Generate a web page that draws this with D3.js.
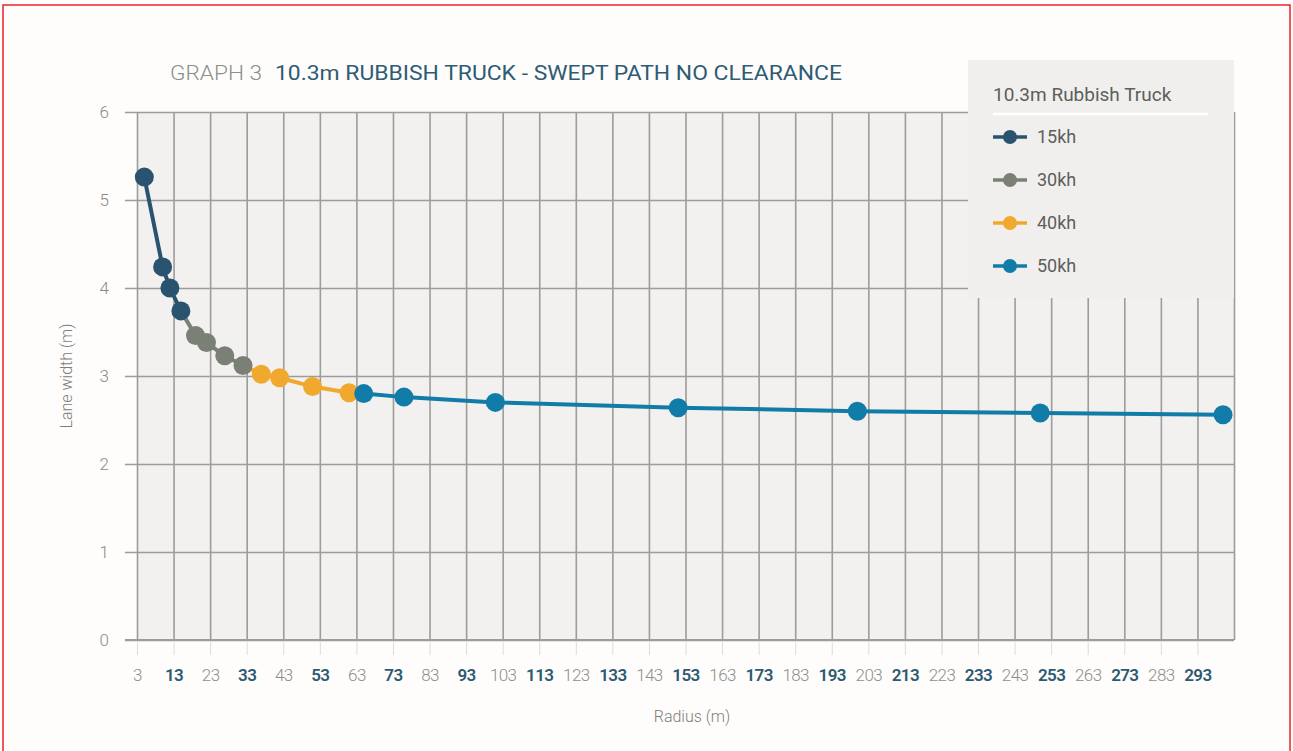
<!DOCTYPE html>
<html>
<head>
<meta charset="utf-8">
<script src="https://cdn.jsdelivr.net/npm/d3@7/dist/d3.min.js"></script>
<style>
  html, body { margin: 0; padding: 0; background: #fefdfb; }
  svg { display: block; }
  text { font-family: Roboto, "Open Sans", sans-serif; }
</style>
</head>
<body>
<svg id="chart" width="1293" height="751"></svg>
<script>
// Lane width (m) against turning radius (m) for each speed band
const radius15 = [5, 10, 12, 15];
const width15  = [5.26, 4.24, 4.0, 3.74];
const radius30 = [19, 22, 27, 32];
const width30  = [3.46, 3.38, 3.23, 3.12];
const radius40 = [37, 42, 51, 61];
const width40  = [3.02, 2.98, 2.88, 2.81];
const radius50 = [65, 76, 101, 151, 200, 250, 300];
const width50  = [2.80, 2.76, 2.70, 2.64, 2.60, 2.58, 2.56];

const seriesNames = ["15kh", "30kh", "40kh", "50kh"];
const seriesColors = ["#2a5370", "#7b8076", "#f0a92e", "#117ca8"];
const xTickValues = d3.range(3, 294, 10);      // 3, 13, ... 293
const xGridValues = d3.range(3, 304, 10);      // includes the right edge at 303
const yTickValues = [0, 1, 2, 3, 4, 5, 6];

const series = [
  { name: seriesNames[0], color: seriesColors[0], pts: radius15.map((r, i) => [r, width15[i]]) },
  { name: seriesNames[1], color: seriesColors[1], pts: radius30.map((r, i) => [r, width30[i]]) },
  { name: seriesNames[2], color: seriesColors[2], pts: radius40.map((r, i) => [r, width40[i]]) },
  { name: seriesNames[3], color: seriesColors[3], pts: radius50.map((r, i) => [r, width50[i]]) }
];

const svg = d3.select("#chart");

// page frame
svg.append("rect")
  .attr("x", 3).attr("y", 5).attr("width", 1287).attr("height", 760)
  .attr("fill", "none").attr("stroke", "#e8232a").attr("stroke-width", 1.5);

const x = d3.scaleLinear().domain([3, 303]).range([137, 1234]);
const y = d3.scaleLinear().domain([0, 6]).range([640, 112]);
const [x0, x1] = x.range();
const [y0, y1] = y.range();

// plot background
svg.append("rect")
  .attr("x", x0).attr("y", y1).attr("width", x1 - x0).attr("height", y0 - y1)
  .attr("fill", "#f2f1ef");

const gridColor = "#9c9c9a";

// horizontal gridlines with short ticks to the left, plus value labels
const yAxis = svg.append("g")
  .attr("transform", `translate(${x0 - 12},0)`)
  .call(d3.axisLeft(y).tickValues(yTickValues).tickSize(-(x1 - x0 + 12)).tickPadding(16).tickFormat(d3.format("d")));
yAxis.select(".domain").remove();
yAxis.selectAll(".tick line").attr("stroke", gridColor).attr("stroke-width", 1.6);
yAxis.selectAll(".tick text")
  .attr("fill", "#8a8a88").attr("font-size", 17).attr("font-weight", 300);

// vertical gridlines
const xGrid = svg.append("g")
  .attr("transform", `translate(0,${y0})`)
  .call(d3.axisBottom(x).tickValues(xGridValues).tickSize(-(y0 - y1)).tickFormat(""));
xGrid.select(".domain").remove();
xGrid.selectAll(".tick line").attr("stroke", gridColor).attr("stroke-width", 1.6);

// re-draw the baseline so it sits above the vertical lines
svg.append("line")
  .attr("x1", x0 - 12).attr("x2", x1).attr("y1", y(0)).attr("y2", y(0))
  .attr("stroke", gridColor).attr("stroke-width", 1.8);

// x-axis ticks below the plot and alternating-colour labels
const xAxis = svg.append("g")
  .attr("transform", `translate(0,${y0 + 2})`)
  .call(d3.axisBottom(x).tickValues(xTickValues).tickSize(13).tickPadding(14).tickFormat(d3.format("d")));
xAxis.select(".domain").remove();
xAxis.selectAll(".tick line").attr("stroke", "#dcdcda").attr("stroke-width", 1);
xAxis.selectAll(".tick text")
  .attr("font-size", 17)
  .attr("fill", (d, i) => i % 2 ? "#2d5a72" : "#8e8e8c")
  .attr("font-weight", (d, i) => i % 2 ? 600 : 300)
  .attr("letter-spacing", -0.6);

// axis titles
svg.append("text")
  .attr("x", 692).attr("y", 722).attr("text-anchor", "middle")
  .attr("font-size", 16).attr("fill", "#7e7e7c").attr("font-weight", 300)
  .text("Radius (m)");
svg.append("text")
  .attr("transform", "translate(72,376) rotate(-90)")
  .attr("text-anchor", "middle")
  .attr("font-size", 16).attr("fill", "#7e7e7c").attr("font-weight", 300)
  .text("Lane width (m)");

// chart title
const t1 = svg.append("text")
  .attr("x", 170).attr("y", 80)
  .attr("font-size", 21).attr("fill", "#8a8f88").attr("font-weight", 300)
  .text("GRAPH 3");
t1.attr("textLength", 92).attr("lengthAdjust", "spacingAndGlyphs");
const t2 = svg.append("text")
  .attr("x", 275).attr("y", 80)
  .attr("font-size", 21).attr("fill", "#2e5c74").attr("font-weight", 400)
  .text("10.3m RUBBISH TRUCK - SWEPT PATH NO CLEARANCE");
t2.attr("textLength", 567).attr("lengthAdjust", "spacingAndGlyphs");

// series lines: each one starts from the previous band's last point
const line = d3.line().x(d => x(d[0])).y(d => y(d[1]));
const plot = svg.append("g");
series.forEach((s, i) => {
  const pts = i > 0 ? [series[i - 1].pts[series[i - 1].pts.length - 1], ...s.pts] : s.pts;
  plot.append("path")
    .attr("d", line(pts))
    .attr("fill", "none")
    .attr("stroke", s.color)
    .attr("stroke-width", 4)
    .attr("stroke-linejoin", "round");
});
series.forEach(s => {
  plot.selectAll(null)
    .data(s.pts)
    .join("circle")
    .attr("cx", d => x(d[0]))
    .attr("cy", d => y(d[1]))
    .attr("r", 9.5)
    .attr("fill", s.color);
});

// legend
const lg = svg.append("g").attr("transform", "translate(968,60)");
lg.append("rect").attr("width", 266).attr("height", 238).attr("fill", "#f0efed");
lg.append("text")
  .attr("x", 25).attr("y", 41)
  .attr("font-size", 19).attr("fill", "#5e5e5c").attr("font-weight", 400)
  .text("10.3m Rubbish Truck");
lg.append("line")
  .attr("x1", 25).attr("x2", 240).attr("y1", 54).attr("y2", 54)
  .attr("stroke", "#ffffff").attr("stroke-width", 2.5);
const items = lg.selectAll("g.item")
  .data(series)
  .join("g")
  .attr("class", "item")
  .attr("transform", (d, i) => `translate(25,${77 + i * 43})`);
items.append("line")
  .attr("x1", 0).attr("x2", 34).attr("y1", 0).attr("y2", 0)
  .attr("stroke", d => d.color).attr("stroke-width", 3.5);
items.append("circle")
  .attr("cx", 17).attr("cy", 0).attr("r", 7)
  .attr("fill", d => d.color);
items.append("text")
  .attr("x", 44).attr("y", 0).attr("dy", "0.35em")
  .attr("font-size", 18).attr("fill", "#5e5e5c").attr("font-weight", 400)
  .text(d => d.name);
</script>
</body>
</html>
